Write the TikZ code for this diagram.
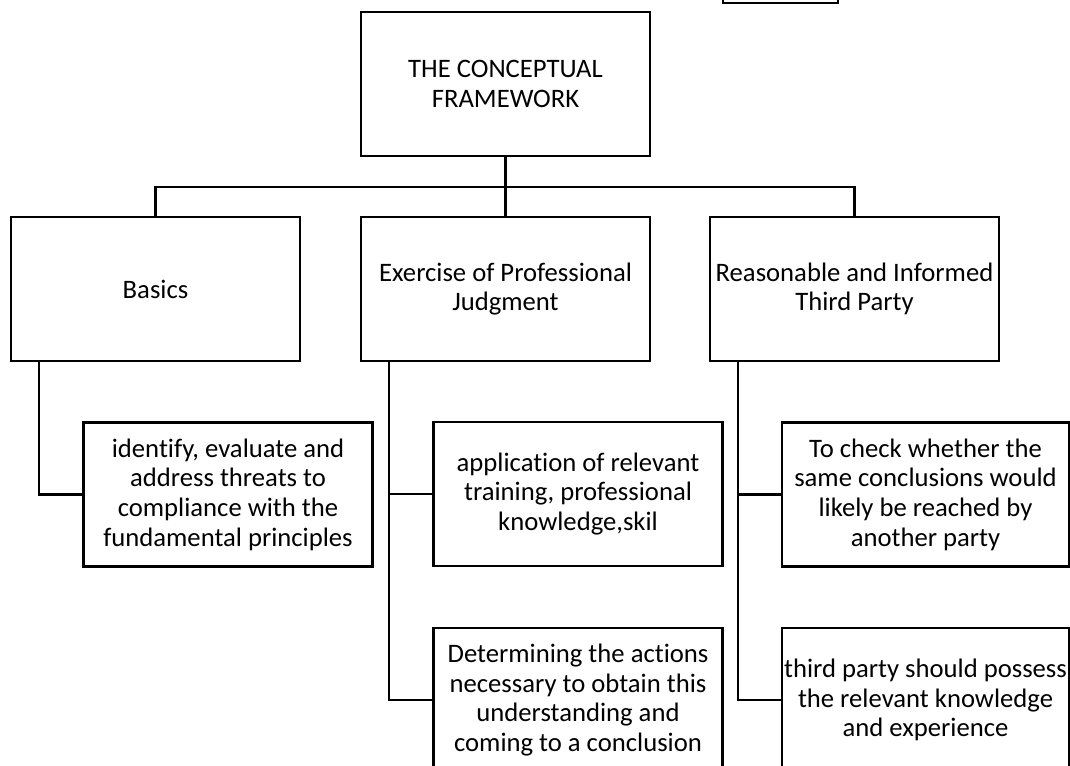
\documentclass[tikz,border=0pt]{standalone}
\usepackage{fontspec}
\setmainfont[Ligatures=NoCommon]{Carlito}
\usetikzlibrary{positioning}

\tikzset{
  box/.style={draw, line width=1.6pt, minimum width=289*0.75pt, minimum height=144*0.75pt,
              inner sep=0pt, align=center, font=\fontsize{20}{22.3}\selectfont},
  link/.style={line width=1.6pt}
}

\begin{document}
\begin{tikzpicture}[x=0.75pt, y=-0.75pt]
  % --- Page frame (pixel units, y downwards) ---
  \path[use as bounding box, clip] (0,0) rectangle (1070,765);

  % --- Parameters ---
  \def\busy{187}    % y of the horizontal bus
  \def\sx{21.75pt}  % spine offset from a box's left edge

  % --- Top level ---
  \node[box, minimum width=115*0.75pt] (tag) at (780.5,-69) {};
  \node[box] (root) at (505.5,84) {THE CONCEPTUAL\\FRAMEWORK};

  % --- Second level ---
  \node[box] (basics) at (155.5,289) {Basics};
  \node[box] (judg)   at (505.5,289) {Exercise of Professional\\Judgment};
  \node[box] (party)  at (854.5,289) {Reasonable and Informed\\Third Party};

  % --- Third level ---
  \node[box] (threats) at (228,494.5) {identify, evaluate and\\address threats to\\compliance with the\\fundamental principles};
  \node[box] (skill)   at (578,494)   {application of relevant\\training, professional\\knowledge,skil};
  \node[box] (actions) at (578,700)   {Determining the actions\\necessary to obtain this\\understanding and\\coming to a conclusion};
  \node[box, minimum width=287*0.75pt] (check) at (925.5,494.5) {To check whether the\\same conclusions would\\likely be reached by\\another party};
  \node[box, minimum width=287*0.75pt] (know)  at (925.5,700)   {third party should possess\\the relevant knowledge\\and experience};

  % --- Bus from the root ---
  \coordinate (bus) at (505.5,\busy);
  \draw[link] (root.south) -- (judg.north);
  \draw[link] (basics.north) |- (bus) -| (party.north);

  % --- Spines down the left of each column ---
  \coordinate (bspine) at ([xshift=\sx]basics.south west);
  \coordinate (jspine) at ([xshift=\sx]judg.south west);
  \coordinate (pspine) at ([xshift=\sx]party.south west);
  \draw[link] (bspine) |- (threats.west);
  \draw[link] (jspine) |- (actions.west);
  \draw[link] (jspine) |- (skill.west);
  \draw[link] (pspine) |- (know.west);
  \draw[link] (pspine) |- (check.west);
\end{tikzpicture}
\end{document}
